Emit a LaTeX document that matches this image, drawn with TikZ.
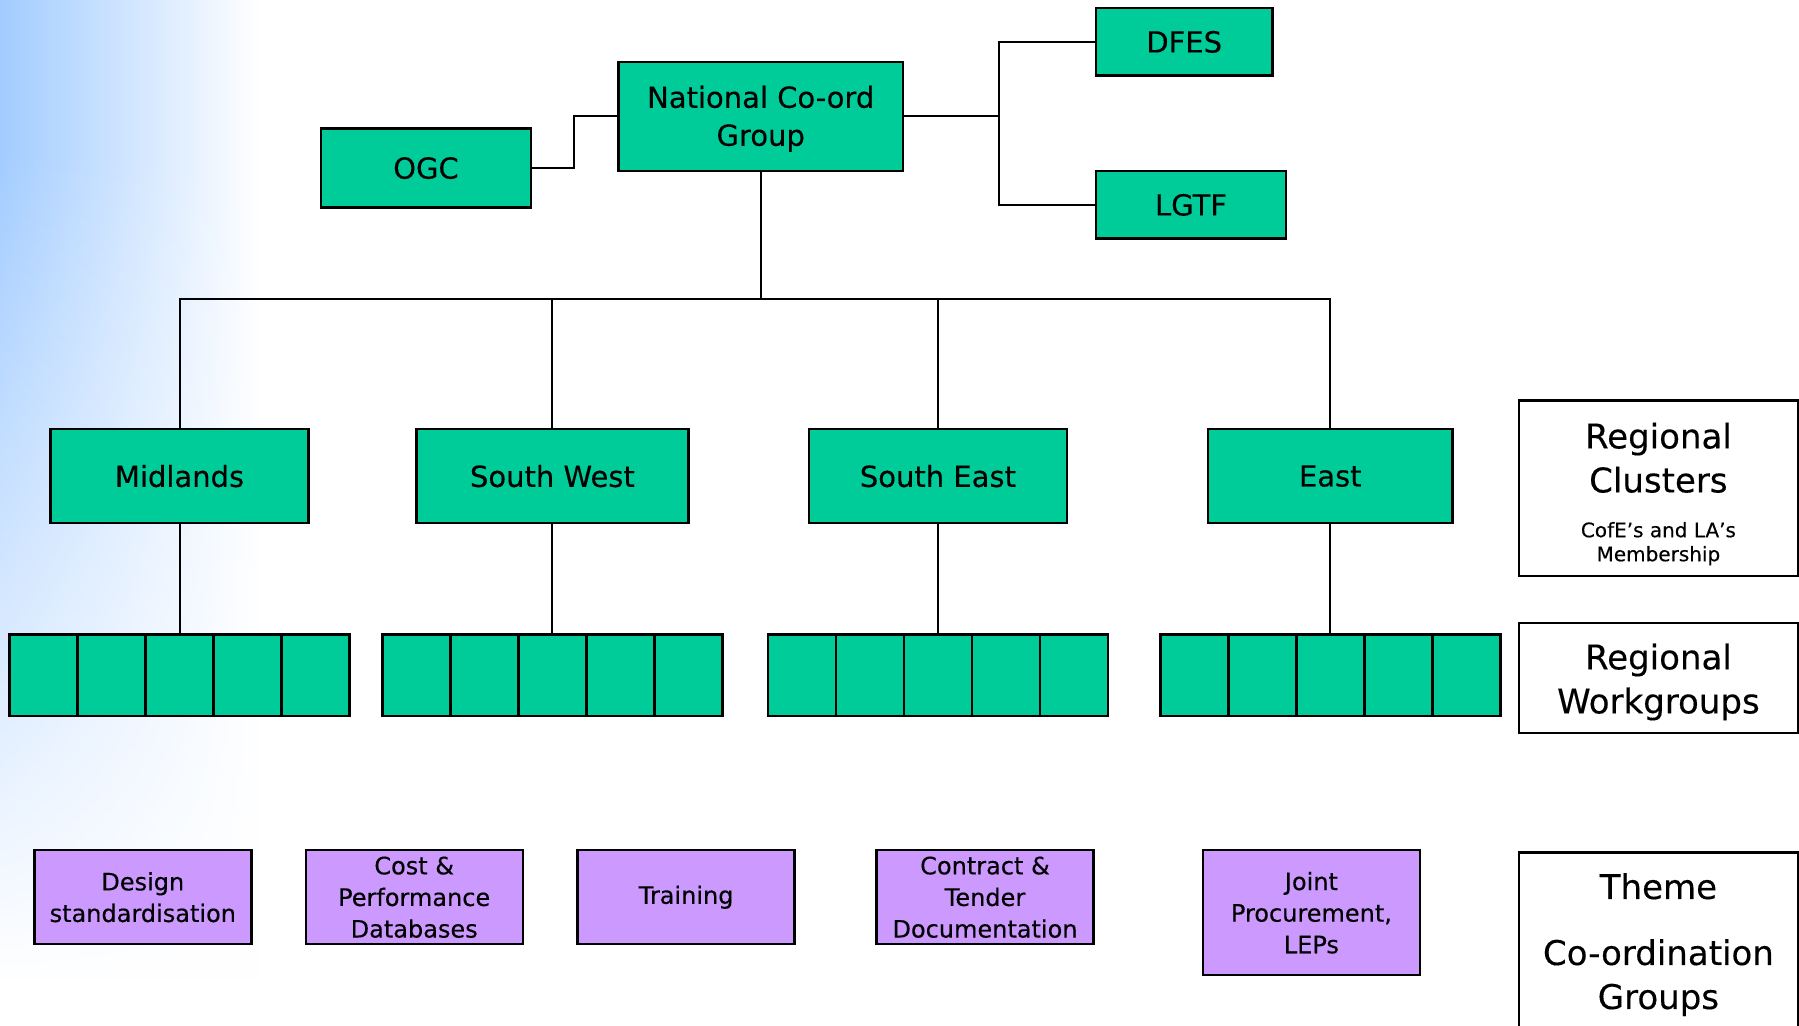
\documentclass[tikz,border=0pt]{standalone}
\usepackage{fontspec}
\setmainfont{DejaVu Sans}[UprightFeatures={FakeBold=0.3}]
\usetikzlibrary{positioning,fadings}
\definecolor{boxgreen}{RGB}{0,204,153}
\definecolor{boxpurple}{RGB}{204,153,255}
\definecolor{skyblue}{RGB}{162,204,255}
\tikzset{
	every path/.style = {line width=1pt},
	group/.style = {draw, line width=1.2pt, fill=boxgreen, align=center, font=\fontsize{14.5}{19}\selectfont},
	cluster/.style = {group, minimum height=47pt},
	cell/.style = {draw, line width=1.2pt, fill=boxgreen, minimum width=34pt, minimum height=40.7pt},
	theme/.style = {draw, line width=1.2pt, fill=boxpurple, minimum width=108.5pt, minimum height=47pt, align=center, font=\fontsize{12}{15.8}\selectfont, inner sep=0pt},
	legend/.style = {draw, line width=1.2pt, fill=white, minimum width=139.4pt, align=center, font=\fontsize{17}{22}\selectfont}
}

\begin{document}
\begin{tikzpicture}[x=0.5pt, y=-0.5pt]
	\useasboundingbox (0,0) rectangle (1799,1026);
	\shade[left color=skyblue, right color=white] (0,0) rectangle (260,1026);
	\fill[white, path fading=north] (0,150) rectangle (270,980);
	\fill[white] (0,980) rectangle (270,1026);

	\node (National) [group, minimum width=142.3pt, minimum height=54.5pt] at (760.7,116.5) {\rule{0pt}{13.3pt}National Co-ord\\Group};
	\node (OGC) [group, minimum width=105pt, minimum height=39.6pt, left=42.5pt of National, yshift=-25.8pt] {OGC};
	\node (DFES) [group, minimum width=88.4pt, minimum height=33.8pt, right=95.2pt of National, yshift=37.3pt] {DFES};
	\node (LGTF) [group, minimum width=95.2pt, minimum height=33.8pt, right=95.2pt of National, yshift=-44.2pt] {LGTF};

	\node (Midlands) [cluster, minimum width=129pt] at (179.5,476.1) {Midlands};
	\node (SouthWest) [cluster, minimum width=136pt] at (552.4,476.1) {South West};
	\node (SouthEast) [cluster, minimum width=129pt] at (937.9,476.1) {South East};
	\node (East) [cluster, minimum width=122.2pt] at (1330.3,476.1) {East};

	\draw (OGC.east) -- ++(42,0) |- (National.west);
	\draw (National.east) -- ++(95,0) coordinate (fork);
	\draw (fork) |- (DFES.west);
	\draw (fork) |- (LGTF.west);
	\coordinate (bus) at (760.7,299.4);
	\draw (National) -- (bus);
	\foreach \c in {Midlands,SouthWest,SouthEast,East}
		\draw (bus) -| (\c);

	\foreach \c/\r in {Midlands/mid,SouthWest/sw,SouthEast/se,East/ea} {
		\foreach \i in {1,...,5}
			\node (\r\i) [cell, below=54.5pt of \c, xshift=(\i-3)*34pt] {};
		\draw (\c) -- (\r3);
	}

	\node (Design) [theme] at (142.8,897.2) {Design\\standardisation};
	\node (Cost) [theme] at (414.2,897.2) {Cost \&\\Performance\\Databases};
	\node (Training) [theme] at (686.1,897.2) {Training};
	\node (Contract) [theme] at (985,897.2) {Contract \&\\Tender\\Documentation};
	\node (Joint) [theme, minimum height=62.5pt] at (1311.4,912.7) {Joint\\Procurement,\\LEPs};

	\node (Clusters) [legend, minimum height=87.8pt] at (1658.4,488.2) {\rule{0pt}{18.7pt}Regional\\Clusters\\[0.4pt]{\fontsize{10}{12}\selectfont CofE’s and LA’s}\\[-10pt]{\fontsize{10}{12}\selectfont Membership}};
	\node (Workgroups) [legend, minimum height=55pt] at (1658.4,678) {\rule{0pt}{16.9pt}Regional\\Workgroups};
	\node (ThemeBox) [legend, minimum height=100pt, anchor=north] at (1658.4,851.3) {};
	\node (ThemeText) [align=center, font=\fontsize{17}{22}\selectfont] at (1658.4,944.6) {Theme\\[11pt]Co-ordination\\Groups};
\end{tikzpicture}
\end{document}
